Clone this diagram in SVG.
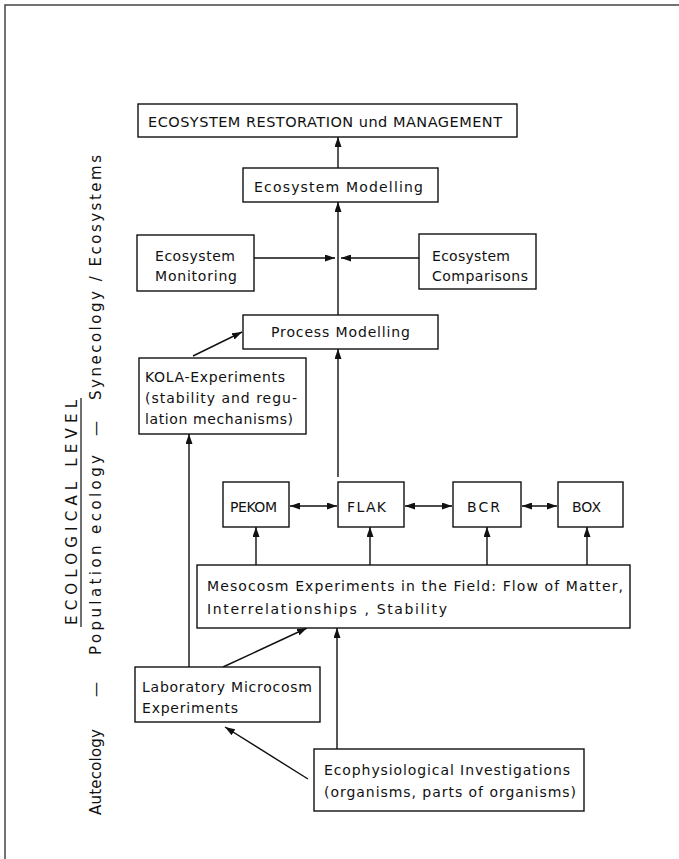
<svg xmlns="http://www.w3.org/2000/svg" width="679" height="859" viewBox="0 0 679 859">
<style>
  .box { fill: #fff; stroke: #111; stroke-width: 1.4; }
  .t { font-family: "DejaVu Sans", "Liberation Sans", sans-serif; font-size: 14px; fill: #111; }
  .big { font-size: 14.5px; }
  .side { font-size: 15px; }
  .c { stroke: #111; stroke-width: 1.4; fill: none; }
  .frame { stroke: #444; stroke-width: 1.5; fill: none; }
</style>
<defs>
  <marker id="ah" markerUnits="userSpaceOnUse" markerWidth="10" markerHeight="7" refX="10" refY="3.5" orient="auto-start-reverse">
    <path d="M0,0 L10,3.5 L0,7 z" fill="#111"/>
  </marker>
</defs>
<rect width="679" height="859" fill="#fff"/>
<path class="frame" d="M679,5 L5,5 L5,859"/>

<g id="side-labels">
  <text class="t side" transform="translate(77,625) rotate(-90)" textLength="225" lengthAdjust="spacing">ECOLOGICAL LEVEL</text>
  <line x1="81" y1="398" x2="81" y2="627" stroke="#111" stroke-width="1.2"/>
  <text class="t side" transform="translate(101,815) rotate(-90)" textLength="86" lengthAdjust="spacing">Autecology</text>
  <text class="t side" transform="translate(101,697) rotate(-90)">—</text>
  <text class="t side" transform="translate(101,655) rotate(-90)" textLength="200" lengthAdjust="spacing">Population ecology</text>
  <text class="t side" transform="translate(101,436) rotate(-90)">—</text>
  <text class="t side" transform="translate(101,400) rotate(-90)" textLength="245" lengthAdjust="spacing">Synecology / Ecosystems</text>
</g>

<g id="connectors">
  <line class="c" x1="338" y1="168" x2="338" y2="137" marker-end="url(#ah)"/>
  <line class="c" x1="338" y1="315" x2="338" y2="202" marker-end="url(#ah)"/>
  <line class="c" x1="254" y1="258" x2="335" y2="258" marker-end="url(#ah)"/>
  <line class="c" x1="419" y1="258" x2="341" y2="258" marker-end="url(#ah)"/>
  <line class="c" x1="193" y1="356" x2="242" y2="332" marker-end="url(#ah)"/>
  <line class="c" x1="338" y1="477" x2="338" y2="349" marker-end="url(#ah)"/>
  <line class="c" x1="189" y1="667" x2="189" y2="434" marker-end="url(#ah)"/>
  <line class="c" x1="290" y1="506" x2="337" y2="506" marker-start="url(#ah)" marker-end="url(#ah)"/>
  <line class="c" x1="405" y1="506" x2="452" y2="506" marker-start="url(#ah)" marker-end="url(#ah)"/>
  <line class="c" x1="522" y1="506" x2="557" y2="506" marker-start="url(#ah)" marker-end="url(#ah)"/>
  <line class="c" x1="256" y1="565" x2="256" y2="527" marker-end="url(#ah)"/>
  <line class="c" x1="370" y1="565" x2="370" y2="527" marker-end="url(#ah)"/>
  <line class="c" x1="487" y1="565" x2="487" y2="527" marker-end="url(#ah)"/>
  <line class="c" x1="587" y1="565" x2="587" y2="527" marker-end="url(#ah)"/>
  <line class="c" x1="223" y1="667" x2="307" y2="628" marker-end="url(#ah)"/>
  <line class="c" x1="337" y1="749" x2="337" y2="628" marker-end="url(#ah)"/>
  <line class="c" x1="308" y1="779" x2="225" y2="727" marker-end="url(#ah)"/>
</g>

<g id="restoration">
  <rect class="box" x="138" y="104" width="379" height="33"/>
  <text class="t big" x="148" y="127" textLength="354" lengthAdjust="spacing">ECOSYSTEM RESTORATION und MANAGEMENT</text>
</g>
<g id="eco-modelling">
  <rect class="box" x="243" y="168" width="195" height="34"/>
  <text class="t" x="254" y="192" textLength="169" lengthAdjust="spacing">Ecosystem Modelling</text>
</g>
<g id="eco-monitoring">
  <rect class="box" x="137" y="235" width="117" height="56"/>
  <text class="t" x="155" y="261" textLength="80" lengthAdjust="spacing">Ecosystem</text>
  <text class="t" x="155" y="281" textLength="82" lengthAdjust="spacing">Monitoring</text>
</g>
<g id="eco-comparisons">
  <rect class="box" x="419" y="234" width="117" height="55"/>
  <text class="t" x="432" y="261" textLength="78" lengthAdjust="spacing">Ecosystem</text>
  <text class="t" x="432" y="281" textLength="96" lengthAdjust="spacing">Comparisons</text>
</g>
<g id="process-modelling">
  <rect class="box" x="243" y="315" width="195" height="34"/>
  <text class="t" x="271" y="337" textLength="139" lengthAdjust="spacing">Process Modelling</text>
</g>
<g id="kola">
  <rect class="box" x="139" y="358" width="167" height="76"/>
  <text class="t" x="145" y="382" textLength="140" lengthAdjust="spacing">KOLA-Experiments</text>
  <text class="t" x="145" y="403" textLength="152" lengthAdjust="spacing">(stability and regu-</text>
  <text class="t" x="145" y="424" textLength="148" lengthAdjust="spacing">lation mechanisms)</text>
</g>
<g id="pekom">
  <rect class="box" x="223" y="482" width="66" height="45"/>
  <text class="t" x="230" y="512" textLength="47" lengthAdjust="spacing">PEKOM</text>
</g>
<g id="flak">
  <rect class="box" x="338" y="482" width="66" height="45"/>
  <text class="t" x="347" y="512" textLength="39" lengthAdjust="spacing">FLAK</text>
</g>
<g id="bcr">
  <rect class="box" x="453" y="482" width="68" height="45"/>
  <text class="t" x="467" y="512" textLength="33" lengthAdjust="spacing">BCR</text>
</g>
<g id="box">
  <rect class="box" x="558" y="482" width="65" height="45"/>
  <text class="t" x="572" y="512" textLength="29" lengthAdjust="spacing">BOX</text>
</g>
<g id="mesocosm">
  <rect class="box" x="197" y="565" width="433" height="63"/>
  <text class="t" x="207" y="591" textLength="416" lengthAdjust="spacing">Mesocosm Experiments in the Field: Flow of Matter,</text>
  <text class="t" x="207" y="614" textLength="240" lengthAdjust="spacing">Interrelationships , Stability</text>
</g>
<g id="lab-microcosm">
  <rect class="box" x="135" y="667" width="185" height="55"/>
  <text class="t" x="142" y="692" textLength="170" lengthAdjust="spacing">Laboratory Microcosm</text>
  <text class="t" x="142" y="713" textLength="96" lengthAdjust="spacing">Experiments</text>
</g>
<g id="ecophysiological">
  <rect class="box" x="314" y="749" width="270" height="62"/>
  <text class="t" x="324" y="775" textLength="246" lengthAdjust="spacing">Ecophysiological Investigations</text>
  <text class="t" x="324" y="797" textLength="252" lengthAdjust="spacing">(organisms, parts of organisms)</text>
</g>
</svg>
